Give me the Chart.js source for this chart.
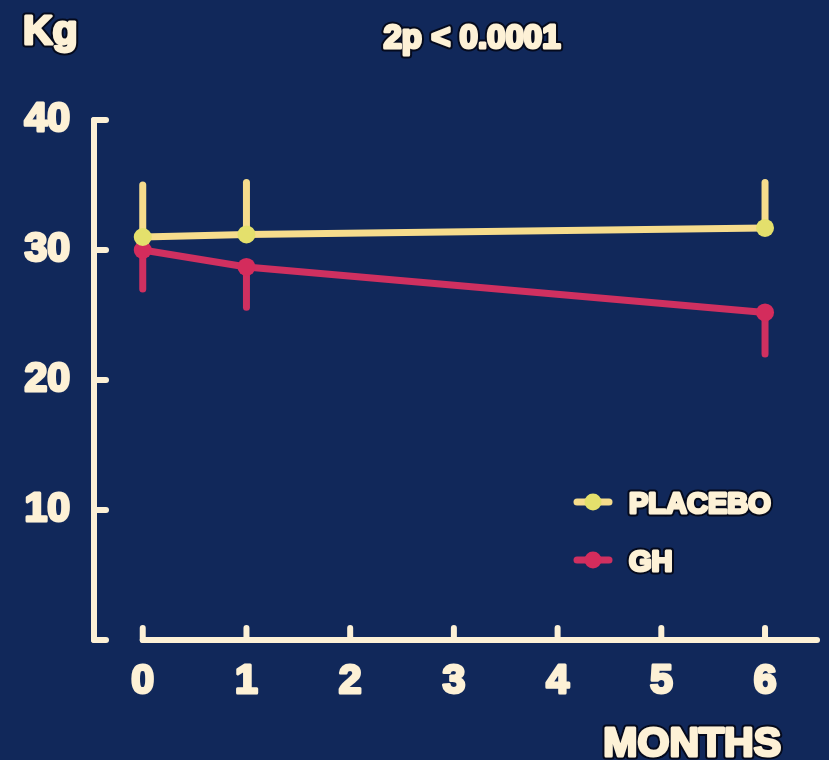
<!DOCTYPE html>
<html>
<head>
<meta charset="utf-8">
<script src="https://cdn.jsdelivr.net/npm/chart.js@4/dist/chart.umd.min.js"></script>
<style>
  html, body { margin: 0; padding: 0; background: #11285a; }
  #wrap { width: 829px; height: 760px; }
</style>
</head>
<body>
<div id="wrap"><canvas id="c" width="829" height="760"></canvas></div>
<script>
// Body weight (kg) over time, mean with one-sided SD bars
const months = [0, 1, 6];
const placeboMean = [31.0, 31.2, 31.7];
const placeboSD = [4.0, 4.0, 3.5];
const ghMean = [30.0, 28.7, 25.2];
const ghSD = [3.0, 3.1, 3.2];

const seriesLabels = ['PLACEBO', 'GH'];
const monthTicks = [0, 1, 2, 3, 4, 5, 6];
const kgTickLabels = [10, 20, 30, 40];
const kgTickMarks = [0, 10, 20, 30, 40];

const yTitle = 'Kg';
const xTitle = 'MONTHS';
const pValueText = '2p < 0.0001';

const BG = '#11285a';
const CREAM = '#fdf1d6';
const OUTLINE = '#050a1c';
const PLACEBO_LINE = '#f6dc8c';
const PLACEBO_DOT = '#e4e06c';
const GH_LINE = '#cf3060';
const GH_DOT = '#d42c5c';
const FONT = '"Liberation Sans", Arial, sans-serif';

// Heavy cream lettering with a thin dark rim
function outlinedText(ctx, text, x, y, size, align, baseline) {
  ctx.save();
  ctx.font = 'bold ' + size + 'px ' + FONT;
  ctx.textAlign = align;
  ctx.textBaseline = baseline;
  ctx.lineJoin = 'round';
  ctx.lineWidth = 7;
  ctx.strokeStyle = OUTLINE;
  ctx.strokeText(text, x, y);
  ctx.lineWidth = 3;
  ctx.strokeStyle = CREAM;
  ctx.strokeText(text, x, y);
  ctx.fillStyle = CREAM;
  ctx.fillText(text, x, y);
  ctx.restore();
}

function stroke(ctx, x1, y1, x2, y2) {
  ctx.beginPath();
  ctx.moveTo(x1, y1);
  ctx.lineTo(x2, y2);
  ctx.stroke();
}

// Dark rim behind the Chart.js tick labels
function rimLabels(ctx, scale) {
  ctx.save();
  ctx.lineJoin = 'round';
  ctx.lineWidth = 7;
  ctx.strokeStyle = OUTLINE;
  scale._labelItems.forEach(item => {
    const o = item.options;
    ctx.font = item.font.string;
    ctx.textAlign = o.textAlign;
    ctx.textBaseline = o.textBaseline;
    ctx.strokeText(item.label, o.translation[0], o.translation[1] + item.textOffset);
  });
  ctx.restore();
}

const decor = {
  id: 'decor',
  beforeDraw(chart) {
    const ctx = chart.ctx;
    ctx.save();
    ctx.fillStyle = BG;
    ctx.fillRect(0, 0, chart.width, chart.height);
    ctx.restore();
    ctx.lineJoin = 'round';
    Object.values(chart.scales).forEach(s => {
      if (s._labelItems) rimLabels(ctx, s);
    });
  },
  beforeDatasetsDraw(chart) {
    const { ctx, scales: { x, y } } = chart;
    ctx.save();
    ctx.lineCap = 'round';

    // y axis with inward ticks
    ctx.strokeStyle = CREAM;
    ctx.lineWidth = 6;
    const ax = x.left;
    stroke(ctx, ax, y.getPixelForValue(40), ax, y.getPixelForValue(0));
    kgTickMarks.forEach(v => {
      const py = y.getPixelForValue(v);
      stroke(ctx, ax, py, ax + 12, py);
    });

    // x axis, starting at month 0, ticks pointing up
    const by = y.getPixelForValue(0);
    stroke(ctx, x.getPixelForValue(0), by, x.right - 3, by);
    monthTicks.forEach(m => {
      const px = x.getPixelForValue(m);
      stroke(ctx, px, by, px, by - 12);
    });

    // SD bars: placebo upward, GH downward
    ctx.lineWidth = 7;
    ctx.strokeStyle = PLACEBO_LINE;
    months.forEach((m, i) => {
      const px = x.getPixelForValue(m);
      stroke(ctx, px, y.getPixelForValue(placeboMean[i]), px, y.getPixelForValue(placeboMean[i] + placeboSD[i]));
    });
    ctx.strokeStyle = GH_LINE;
    months.forEach((m, i) => {
      const px = x.getPixelForValue(m);
      stroke(ctx, px, y.getPixelForValue(ghMean[i]), px, y.getPixelForValue(ghMean[i] - ghSD[i]));
    });
    ctx.restore();
  },
  afterDraw(chart) {
    const ctx = chart.ctx;
    outlinedText(ctx, yTitle, 23, 44, 41, 'left', 'alphabetic');
    outlinedText(ctx, pValueText, 472, 48, 33, 'center', 'alphabetic');
    outlinedText(ctx, xTitle, 781, 756, 41, 'right', 'alphabetic');

    // legend
    const rows = [502, 560];
    chart.data.datasets.forEach((ds, i) => {
      const ry = rows[i];
      ctx.save();
      ctx.lineCap = 'round';
      ctx.strokeStyle = ds.borderColor;
      ctx.lineWidth = 7;
      stroke(ctx, 577, ry, 609, ry);
      ctx.fillStyle = ds.pointBackgroundColor;
      ctx.beginPath();
      ctx.arc(593, ry, 8.5, 0, Math.PI * 2);
      ctx.fill();
      ctx.restore();
      outlinedText(ctx, ds.label, 629, ry + 11, 29, 'left', 'alphabetic');
    });
  }
};

const tickFont = { family: FONT, size: 41, weight: 'bold', lineHeight: 1 };

new Chart(document.getElementById('c'), {
  type: 'line',
  data: {
    datasets: [
      {
        label: seriesLabels[0],
        data: months.map((m, i) => ({ x: m, y: placeboMean[i] })),
        borderColor: PLACEBO_LINE,
        borderWidth: 7,
        pointRadius: 9,
        pointBackgroundColor: PLACEBO_DOT,
        pointBorderWidth: 0,
        tension: 0
      },
      {
        label: seriesLabels[1],
        data: months.map((m, i) => ({ x: m, y: ghMean[i] })),
        borderColor: GH_LINE,
        borderWidth: 7,
        pointRadius: 9,
        pointBackgroundColor: GH_DOT,
        pointBorderWidth: 0,
        tension: 0
      }
    ]
  },
  options: {
    responsive: false,
    animation: false,
    devicePixelRatio: 1,
    clip: false,
    layout: { padding: { top: 120, left: 0, right: 6, bottom: 0 } },
    plugins: { legend: { display: false }, tooltip: { enabled: false } },
    scales: {
      x: {
        type: 'linear',
        min: -0.47,
        max: 6.53,
        afterBuildTicks: s => { s.ticks = monthTicks.map(v => ({ value: v })); },
        afterFit: s => { s.height = 120; },
        grid: { display: false, drawTicks: false },
        border: { display: false },
        ticks: {
          font: tickFont,
          color: CREAM,
          textStrokeColor: CREAM,
          textStrokeWidth: 3,
          padding: 21,
          maxRotation: 0,
          autoSkip: false
        }
      },
      y: {
        type: 'linear',
        min: 0,
        max: 40,
        afterBuildTicks: s => { s.ticks = kgTickLabels.map(v => ({ value: v })); },
        afterFit: s => { s.width = 94; },
        grid: { display: false, drawTicks: false },
        border: { display: false },
        ticks: {
          font: tickFont,
          color: CREAM,
          textStrokeColor: CREAM,
          textStrokeWidth: 3,
          padding: 24,
          autoSkip: false
        }
      }
    }
  },
  plugins: [decor]
});
</script>
</body>
</html>
